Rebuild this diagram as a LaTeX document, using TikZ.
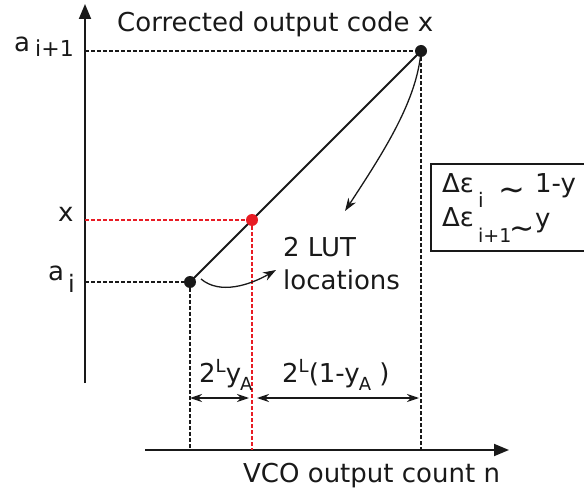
\documentclass[tikz,border=0pt]{standalone}
\usepackage{fontspec}
\setmainfont{DejaVu Sans}
\usetikzlibrary{arrows.meta}
\definecolor{myred}{RGB}{232,28,36}
\definecolor{ink}{RGB}{25,25,25}
\newcommand\myup[1]{\raisebox{10pt}{\fontsize{18}{18}\selectfont #1}}
\newcommand\mydn[1]{\kern-1pt\raisebox{-8pt}{\fontsize{18}{18}\selectfont #1}}
\begin{document}
\begin{tikzpicture}[x=1pt,y=-1pt,
  font=\fontsize{26}{30}\selectfont, color=ink,
  lbl/.style={inner sep=0pt, anchor=base west},
  subl/.style={inner sep=0pt, anchor=base west},
  axis/.style={line width=1.8pt, -{Triangle[length=15pt,width=12pt]}},
  blkdash/.style={dash pattern=on 4pt off 2pt, line width=1.5pt},
  reddash/.style={blkdash, draw=myred},
  dimarrow/.style={line width=1.4pt, {Stealth[length=12pt,width=8pt]}-{Stealth[length=12pt,width=8pt]}},
  curvarrow/.style={line width=1.3pt, -{Stealth[length=13pt,width=9pt]}},
  dot/.style={circle, fill=ink, inner sep=0pt, minimum size=12pt},
  reddot/.style={circle, fill=myred, inner sep=0pt, minimum size=12pt}]
\useasboundingbox (0,0) rectangle (584,489);
\clip (0,0) rectangle (584,489);

% key points
\coordinate (ytop) at (85,4);
\coordinate (ybot) at (85,383);
\coordinate (xl) at (145,450);
\coordinate (xr) at (509,450);
\coordinate (ai) at (190,282);
\coordinate (aip) at (421,51);
\coordinate (xp) at (252,220);
\coordinate (dimy) at (0,398);
\coordinate (tipA) at (345,211);
\coordinate (tipB) at (276,270);

% axes
\draw[axis] (ybot) -- (ytop);
\draw[axis] (xl) -- (xr);

% dashed guides
\draw[blkdash] (ybot |- aip) -- (aip);
\draw[blkdash] (ybot |- ai) -- (ai);
\draw[blkdash] (ai) -- (ai |- xl);
\draw[blkdash] (aip) -- (aip |- xl);
\draw[reddash] (ybot |- xp) -- (xp);
\draw[reddash] (xp) -- (xp |- xl);

% main segment
\draw[line width=2pt] (ai) -- (aip);

% dots
\node[dot] (aidot) at (ai) {};
\node[dot] (aipdot) at (aip) {};
\node[reddot] (xdot) at (xp) {};

% dimension arrows
\draw[dimarrow] (ai |- dimy) -- ([xshift=-3pt]xp |- dimy);
\draw[dimarrow] ([xshift=5pt]xp |- dimy) -- ([xshift=-2pt]aip |- dimy);

% curved arrows
\draw[curvarrow] (aipdot.center) .. controls (417,100) and (385,150) .. (tipA);
\draw[curvarrow] ([xshift=11pt,yshift=3pt]aidot.center) .. controls (220,295) and (250,285) .. (tipB);

% labels
\node[lbl] (title) at (117,32) {Corrected output code x};
\node[lbl] (xaxlbl) at (243,482) {VCO output count n};
\node[lbl] (aiplbl) at (14,52) {a};
\node[subl, font=\fontsize{22}{24}\selectfont] (aipsub) at (35,57) {i+1};
\node[lbl] (xlbl) at (58,222) {x};
\node[lbl] (ailbl) at (48,280) {a};
\node[subl, font=\fontsize{24}{26}\selectfont] (aisub) at (68,292) {i};
\node[lbl] (lut1) at (283,257) {2 LUT};
\node[lbl] (lut2) at (283,290) {locations};
\node[lbl] (dim1) at (199,382) {2\myup{L}y\mydn{A}};
\node[lbl] (dim2) at (282,382) {2\myup{L}(1-y\mydn{A} )};

% error box
\draw[line width=1.4pt] (431,164) rectangle (600,251);
\node[lbl] (e1) at (442,193) {Δε};
\node[subl, font=\fontsize{20}{22}\selectfont] (e1s) at (478,208) {i};
\node[inner sep=0pt, font=\fontsize{32}{34}\selectfont] (t1) at (512,194) {∼};
\node[lbl] (r1) at (535,193) {1-y};
\node[lbl] (e2) at (442,227) {Δε};
\node[subl, font=\fontsize{19}{21}\selectfont] (e2s) at (478,243) {i+1};
\node[inner sep=0pt, font=\fontsize{30}{32}\selectfont] (t2) at (522,233) {∼};
\node[lbl] (r2) at (535,228) {y};
\end{tikzpicture}
\end{document}
